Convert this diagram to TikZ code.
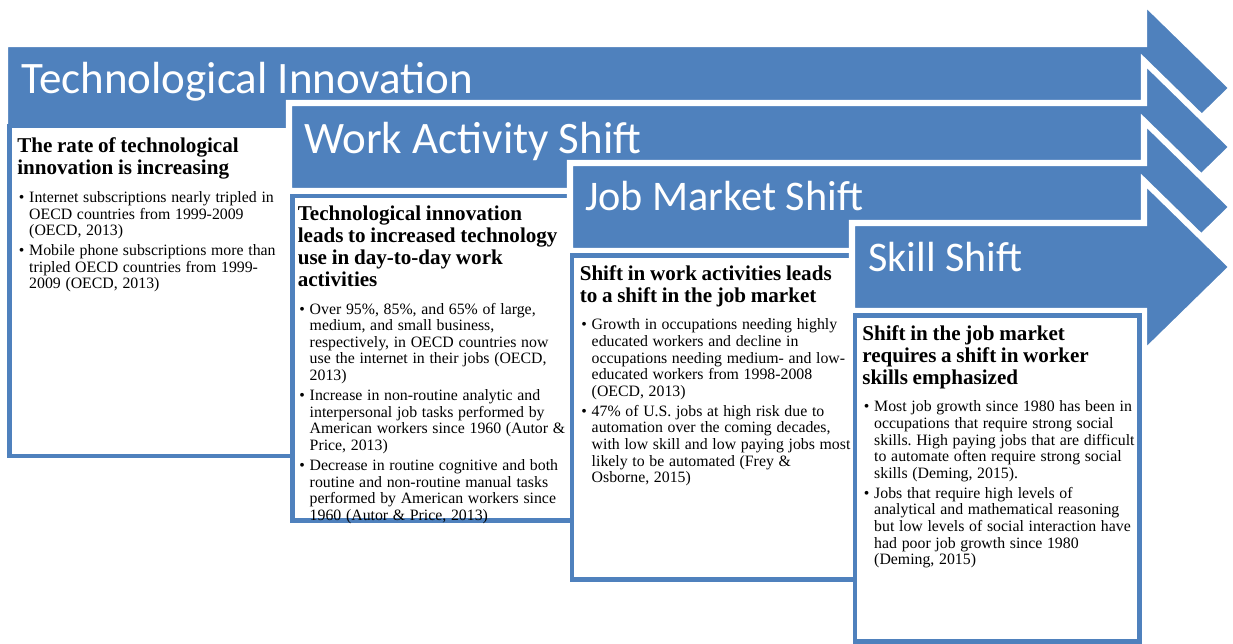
\documentclass[tikz,border=0pt]{standalone}
\usepackage{fontspec}
\setmainfont{Liberation Serif}
\newfontfamily\titlefont{Carlito}
\usepackage{enumitem}
\usepackage{tikz}

\definecolor{stageBlue}{HTML}{4F81BD}
\setlist[itemize]{label=\textbullet, leftmargin=8.5pt, labelsep=3.5pt, topsep=0pt, partopsep=0pt, parsep=0pt, itemsep=2.5pt, before=\fontsize{11.25}{11.8}\selectfont}
\newcommand{\boxHead}[1]{{\fontsize{15}{15.6}\selectfont\bfseries #1\par}\vspace{8pt}}
\frenchspacing

\tikzstyle{stageArrow}=[fill=stageBlue, draw=white, line width=4.3pt, line join=miter]
\tikzstyle{boxFrame}=[fill=white, draw=stageBlue, line width=2.9pt]
\tikzstyle{stageTitle}=[anchor=base west, text=white, inner sep=0pt, font=\titlefont\fontsize{32}{36}\selectfont]
\tikzstyle{stageTitleSmall}=[stageTitle, font=\titlefont\fontsize{30}{34}\selectfont]
\tikzstyle{boxText}=[anchor=north west, inner sep=0pt, text width=200pt, align=left]

\begin{document}
\begin{tikzpicture}[x=0.025cm, y=-0.025cm]
      \useasboundingbox (0,0) rectangle (1233,643);
      % first stage
      \draw[stageArrow] (5,44) -- (1144,44) -- (1144,2) -- (1232,88) -- (1144,174) -- (1144,132) -- (5,132) -- cycle;
      \node(title1) [stageTitle] at (21,94) {Technological Innovation};
      \draw[boxFrame] (9.5,126) rectangle (292.5,456);
      \node(text1) [boxText] at (17,137.5) {
        \boxHead{The rate of technological\\ innovation is increasing}
        \begin{itemize}
          \item Internet subscriptions nearly tripled in\\ OECD countries from 1999-2009\\ (OECD, 2013)
          \item Mobile phone subscriptions more than\\ tripled OECD countries from 1999-\\ 2009 (OECD, 2013)
        \end{itemize}};
      % second stage
      \draw[stageArrow] (289,103) -- (1144,103) -- (1144,61) -- (1232,147) -- (1144,233) -- (1144,191) -- (289,191) -- cycle;
      \node(title2) [stageTitle] at (304,153) {Work Activity Shift};
      \draw[boxFrame] (292.5,196) rectangle (572,520.5);
      \node(text2) [boxText] at (297.5,205.5) {
        \boxHead{Technological innovation\\ leads to increased technology\\ use in day-to-day work\\ activities}
        \begin{itemize}
          \item Over 95\%, 85\%, and 65\% of large,\\ medium, and small business,\\ respectively, in OECD countries now\\ use the internet in their jobs (OECD,\\ 2013)
          \item Increase in non-routine analytic and\\ interpersonal job tasks performed by\\ American workers since 1960 (Autor \&\\ Price, 2013)
          \item Decrease in routine cognitive and both\\ routine and non-routine manual tasks\\ performed by American workers since\\ 1960 (Autor \& Price, 2013)
        \end{itemize}};
      % third stage
      \draw[stageArrow] (570,163) -- (1144,163) -- (1144,121) -- (1232,207) -- (1144,293) -- (1144,251) -- (570,251) -- cycle;
      \node(title3) [stageTitleSmall] at (585,210) {Job Market Shift};
      \draw[boxFrame] (572,255.5) rectangle (855,579.5);
      \node(text3) [boxText] at (579.5,265) {
        \boxHead{Shift in work activities leads\\ to a shift in the job market}
        \begin{itemize}
          \item Growth in occupations needing highly\\ educated workers and decline in\\ occupations needing medium- and low-\\ educated workers from 1998-2008\\ (OECD, 2013)
          \item 47\% of U.S. jobs at high risk due to\\ automation over the coming decades,\\ with low skill and low paying jobs most\\ likely to be automated (Frey \&\\ Osborne, 2015)
        \end{itemize}};
      % fourth stage
      \draw[stageArrow] (852,223) -- (1144,223) -- (1144,181) -- (1232,267) -- (1144,353) -- (1144,311) -- (852,311) -- cycle;
      \node(title4) [stageTitleSmall] at (868,271) {Skill Shift};
      \draw[boxFrame] (855,315.5) rectangle (1139.5,641.5);
      \node(text4) [boxText] at (862,325) {
        \boxHead{Shift in the job market\\ requires a shift in worker\\ skills emphasized}
        \begin{itemize}
          \item Most job growth since 1980 has been in\\ occupations that require strong social\\ skills. High paying jobs that are difficult\\ to automate often require strong social\\ skills (Deming, 2015).
          \item Jobs that require high levels of\\ analytical and mathematical reasoning\\ but low levels of social interaction have\\ had poor job growth since 1980\\ (Deming, 2015)
        \end{itemize}};
\end{tikzpicture}
\end{document}
